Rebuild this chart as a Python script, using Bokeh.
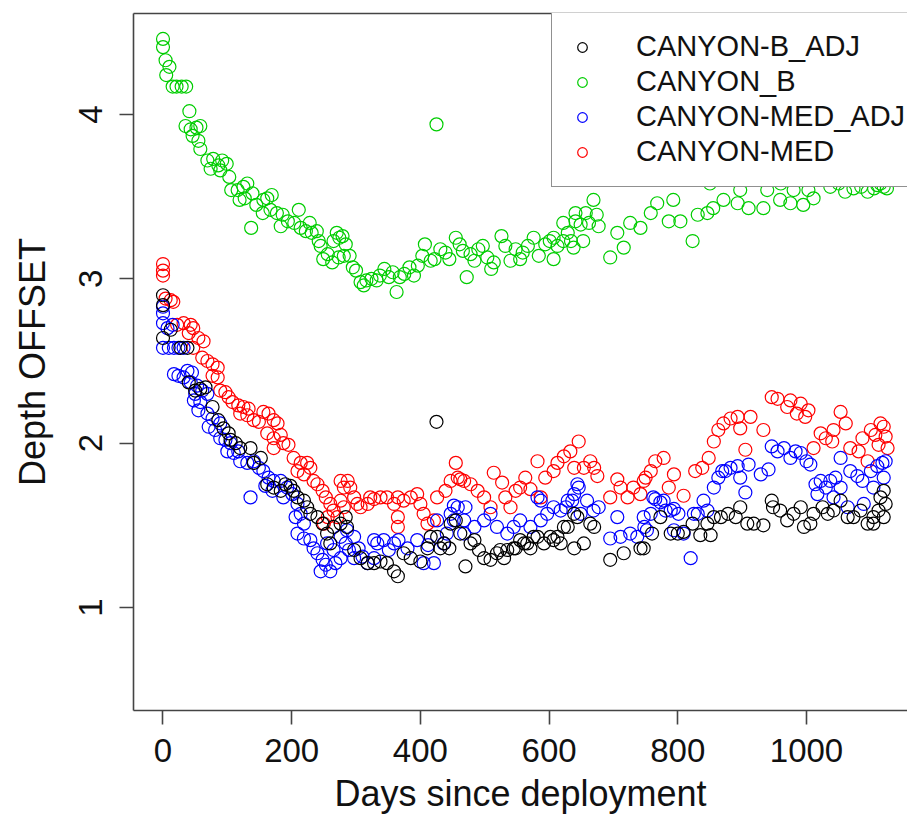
from bokeh.plotting import figure
from bokeh.models import Range1d, LinearAxis, FixedTicker, Legend, LegendItem
from bokeh.embed import file_html
from bokeh.resources import INLINE

# ---------------- data ----------------
green_days = [0, 0, 4, 10, 5, 15, 21, 29, 36, 41, 35, 43, 52, 58, 46, 55, 58, 69, 74, 78,
              86, 92, 99, 89, 103, 106, 116, 125, 131, 119, 127, 139, 145, 156, 162, 169, 137, 155, 167, 177,
              186, 183, 194, 204, 211, 214, 222, 228, 231, 239, 242, 245, 249, 256, 263, 265, 270, 274, 279, 284,
              273, 281, 290, 295, 300, 307, 312, 316, 324, 332, 337, 344, 351, 357, 363, 368, 375, 383, 390, 396,
              403, 407, 416, 422, 425, 431, 439, 445, 455, 461, 466, 472, 478, 484, 490, 497, 504, 510, 514, 526,
              532, 540, 548, 555, 559, 567, 576, 584, 594, 601, 607, 607, 613, 622, 622, 629, 634, 638, 641, 641,
              649, 653, 657, 662, 669, 674, 677, 695, 706, 716, 726, 742, 758, 768, 786, 793, 804, 823, 831, 846,
              855, 871, 893, 897, 910, 933, 939, 959, 975, 980, 995, 1003, 1011, 1037, 1073, 1095, 1120, 850, 905, 960,
              1050, 1110, 1105, 1115, 1125, 1060, 1085]
green_vals = [4.46, 4.41, 4.33, 4.29, 4.24, 4.17, 4.17, 4.17, 4.17, 4.02, 3.93, 3.91, 3.92, 3.93, 3.87, 3.84, 3.79, 3.72, 3.67, 3.73,
              3.69, 3.72, 3.70, 3.66, 3.62, 3.54, 3.54, 3.56, 3.58, 3.48, 3.49, 3.52, 3.45, 3.48, 3.49, 3.51, 3.31, 3.40, 3.42, 3.40,
              3.39, 3.32, 3.35, 3.34, 3.42, 3.31, 3.29, 3.34, 3.28, 3.29, 3.23, 3.20, 3.12, 3.15, 3.10, 3.23, 3.28, 3.25, 3.26, 3.21,
              3.13, 3.14, 3.14, 3.07, 3.05, 2.98, 2.96, 2.99, 3.00, 2.99, 3.02, 3.06, 3.01, 3.04, 2.92, 3.01, 3.03, 3.07, 3.02, 3.08,
              3.14, 3.21, 3.11, 3.12, 3.94, 3.18, 3.16, 3.12, 3.25, 3.21, 3.17, 3.01, 3.15, 3.11, 3.18, 3.20, 3.13, 3.06, 3.10, 3.26,
              3.20, 3.11, 3.18, 3.12, 3.16, 3.20, 3.25, 3.14, 3.21, 3.23, 3.12, 3.25, 3.20, 3.23, 3.34, 3.28, 3.23, 3.19, 3.35, 3.40,
              3.33, 3.23, 3.40, 3.34, 3.48, 3.39, 3.32, 3.13, 3.28, 3.19, 3.34, 3.31, 3.40, 3.46, 3.35, 3.48, 3.35, 3.23, 3.39, 3.40,
              3.43, 3.48, 3.46, 3.54, 3.43, 3.43, 3.54, 3.48, 3.46, 3.54, 3.45, 3.54, 3.49, 3.56, 3.55, 3.53, 3.56, 3.58, 3.60, 3.58,
              3.58, 3.57, 3.55, 3.58, 3.55, 3.53, 3.56]

red_days = [0, 0, 0, 4, 12, 16, 22, 32, 43, 47, 40, 55, 63, 47, 61, 69, 77, 85, 77, 85,
            89, 97, 102, 108, 117, 125, 133, 120, 131, 141, 149, 156, 164, 172, 178, 162, 172, 183, 187, 172,
            195, 203, 214, 224, 229, 209, 219, 234, 240, 248, 253, 260, 265, 271, 276, 281, 256, 250, 276, 287,
            281, 291, 297, 302, 307, 318, 322, 328, 338, 348, 359, 365, 365, 374, 385, 395, 400, 405, 365, 411,
            421, 426, 439, 447, 455, 458, 462, 468, 478, 489, 499, 509, 514, 527, 532, 540, 548, 555, 563, 571,
            582, 587, 594, 607, 613, 623, 633, 646, 639, 654, 664, 670, 675, 695, 706, 711, 722, 731, 742, 750,
            758, 747, 765, 778, 786, 794, 809, 827, 838, 848, 856, 863, 871, 882, 893, 897, 913, 905, 933, 946,
            955, 970, 975, 985, 991, 1003, 998, 1011, 1022, 1030, 1040, 1042, 1053, 1061, 1068, 1081, 1087, 1095, 1100, 1107,
            1115, 1120, 1123, 1126, 1112]
red_vals = [3.09, 3.05, 3.02, 2.88, 2.87, 2.86, 2.72, 2.73, 2.72, 2.70, 2.67, 2.64, 2.62, 2.58, 2.52, 2.50, 2.48, 2.46, 2.41, 2.40,
            2.32, 2.31, 2.28, 2.25, 2.23, 2.22, 2.21, 2.18, 2.17, 2.14, 2.13, 2.19, 2.18, 2.14, 2.12, 2.06, 2.03, 2.05, 2.00, 1.97,
            1.99, 1.91, 1.88, 1.88, 1.85, 1.83, 1.81, 1.77, 1.75, 1.71, 1.67, 1.63, 1.59, 1.55, 1.65, 1.61, 1.55, 1.51, 1.77, 1.77,
            1.73, 1.73, 1.67, 1.63, 1.61, 1.63, 1.67, 1.66, 1.67, 1.67, 1.63, 1.55, 1.67, 1.65, 1.67, 1.69, 1.63, 1.57, 1.49, 1.51,
            1.53, 1.67, 1.71, 1.77, 1.88, 1.79, 1.78, 1.77, 1.75, 1.71, 1.67, 1.61, 1.82, 1.76, 1.67, 1.61, 1.71, 1.73, 1.79, 1.72,
            1.89, 1.67, 1.79, 1.83, 1.88, 1.92, 1.95, 2.01, 1.85, 1.85, 1.89, 1.85, 1.80, 1.67, 1.78, 1.73, 1.67, 1.73, 1.69, 1.79,
            1.83, 1.77, 1.89, 1.91, 1.73, 1.81, 1.68, 1.83, 1.85, 1.91, 2.01, 2.08, 2.12, 2.15, 2.16, 2.09, 2.16, 1.96, 2.08, 2.28,
            2.27, 2.22, 2.26, 2.18, 2.24, 2.20, 2.16, 1.97, 2.06, 2.03, 2.01, 2.08, 2.19, 2.12, 1.97, 1.95, 2.03, 1.89, 2.08, 2.05,
            2.12, 2.10, 2.04, 1.97, 1.99]

blue_days = [0, 0, 0, 7, 15, 0, 9, 17, 24, 32, 17, 24, 32, 38, 45, 43, 53, 61, 50, 48,
             58, 69, 55, 69, 77, 71, 81, 89, 89, 97, 105, 100, 110, 117, 120, 131, 141, 149, 156, 136,
             164, 172, 159, 170, 183, 193, 187, 201, 209, 206, 214, 219, 209, 219, 229, 234, 240, 248, 253, 260,
             245, 255, 265, 276, 268, 276, 284, 289, 297, 286, 297, 304, 310, 318, 328, 333, 343, 351, 359, 366,
             328, 380, 395, 405, 421, 412, 436, 441, 426, 447, 458, 452, 468, 468, 484, 499, 509, 519, 535, 545,
             555, 571, 582, 587, 597, 607, 618, 629, 639, 644, 452, 470, 646, 587, 626, 636, 649, 659, 669, 677,
             695, 706, 711, 726, 737, 748, 752, 747, 758, 762, 765, 773, 778, 781, 789, 794, 801, 794, 809, 820,
             825, 831, 840, 846, 856, 863, 869, 874, 882, 893, 897, 905, 910, 929, 941, 946, 955, 965, 975, 983,
             991, 1000, 1006, 1014, 1017, 1022, 1030, 1037, 1042, 1045, 1053, 1053, 1064, 1068, 1079, 1087, 1089, 1100, 1104, 1110,
             1118, 1120, 1123]
blue_vals = [2.83, 2.79, 2.73, 2.70, 2.72, 2.58, 2.58, 2.58, 2.58, 2.58, 2.42, 2.41, 2.40, 2.44, 2.43, 2.37, 2.35, 2.32, 2.30, 2.26,
             2.25, 2.30, 2.20, 2.18, 2.15, 2.10, 2.08, 2.12, 2.03, 2.02, 2.00, 1.95, 1.94, 1.95, 1.89, 1.88, 1.89, 1.85, 1.83, 1.67,
             1.79, 1.77, 1.74, 1.71, 1.77, 1.73, 1.67, 1.69, 1.63, 1.55, 1.57, 1.51, 1.45, 1.42, 1.41, 1.36, 1.33, 1.29, 1.26, 1.22,
             1.22, 1.39, 1.35, 1.30, 1.27, 1.43, 1.39, 1.35, 1.30, 1.47, 1.43, 1.36, 1.31, 1.27, 1.30, 1.39, 1.41, 1.35, 1.39, 1.41,
             1.41, 1.36, 1.41, 1.27, 1.27, 1.38, 1.39, 1.45, 1.53, 1.57, 1.61, 1.53, 1.53, 1.45, 1.49, 1.53, 1.57, 1.49, 1.45, 1.49,
             1.53, 1.49, 1.67, 1.53, 1.57, 1.61, 1.59, 1.65, 1.69, 1.75, 1.62, 1.61, 1.73, 1.65, 1.61, 1.65, 1.57, 1.65, 1.59, 1.61,
             1.42, 1.55, 1.43, 1.45, 1.43, 1.49, 1.47, 1.55, 1.57, 1.67, 1.66, 1.64, 1.65, 1.59, 1.59, 1.60, 1.57, 1.47, 1.45, 1.30,
             1.57, 1.57, 1.65, 1.59, 1.73, 1.79, 1.83, 1.83, 1.85, 1.86, 1.79, 1.70, 1.87, 1.81, 1.84, 1.98, 1.95, 1.97, 1.91, 1.95,
             1.94, 1.89, 1.87, 1.75, 1.69, 1.77, 1.73, 1.77, 1.67, 1.79, 1.91, 1.73, 1.61, 1.83, 1.80, 1.77, 1.63, 1.83, 1.73, 1.86,
             1.88, 1.79, 1.89]

black_days = [0, 0, 0, 12, 27, 38, 40, 50, 58, 66, 77, 86, 94, 102, 105, 113, 120, 136, 141, 152,
              162, 172, 183, 190, 198, 203, 209, 219, 224, 229, 240, 248, 255, 260, 265, 276, 284, 286, 297, 307,
              318, 328, 338, 348, 359, 365, 374, 385, 400, 411, 416, 425, 426, 431, 437, 445, 447, 455, 462, 470,
              478, 484, 491, 499, 509, 519, 524, 530, 535, 545, 548, 555, 561, 566, 571, 576, 582, 592, 602, 607,
              613, 618, 623, 629, 639, 639, 644, 654, 664, 670, 695, 716, 742, 747, 760, 773, 789, 800, 809, 823,
              835, 846, 851, 856, 867, 878, 890, 897, 908, 918, 933, 946, 948, 959, 970, 980, 991, 996, 1006, 1011,
              1025, 1033, 1042, 1053, 1064, 1073, 1084, 1095, 1104, 1104, 1112, 1115, 1120, 1123, 1120]
black_vals = [2.90, 2.84, 2.64, 2.69, 2.58, 2.58, 2.37, 2.32, 2.33, 2.34, 2.22, 2.14, 2.09, 2.06, 2.02, 2.00, 1.97, 1.97, 1.88, 1.91,
              1.75, 1.73, 1.71, 1.75, 1.74, 1.71, 1.67, 1.65, 1.61, 1.57, 1.55, 1.51, 1.45, 1.39, 1.49, 1.51, 1.55, 1.49, 1.35, 1.30,
              1.27, 1.27, 1.28, 1.27, 1.22, 1.19, 1.33, 1.30, 1.28, 1.36, 1.43, 2.13, 1.43, 1.36, 1.39, 1.36, 1.51, 1.53, 1.45, 1.25,
              1.39, 1.41, 1.35, 1.30, 1.29, 1.33, 1.35, 1.30, 1.35, 1.36, 1.36, 1.41, 1.39, 1.39, 1.36, 1.43, 1.43, 1.39, 1.43, 1.41,
              1.43, 1.39, 1.49, 1.49, 1.36, 1.57, 1.55, 1.39, 1.51, 1.49, 1.29, 1.33, 1.36, 1.36, 1.45, 1.55, 1.45, 1.45, 1.46, 1.51,
              1.44, 1.51, 1.44, 1.55, 1.55, 1.57, 1.55, 1.61, 1.51, 1.51, 1.50, 1.65, 1.61, 1.59, 1.53, 1.57, 1.61, 1.49, 1.51, 1.57,
              1.61, 1.57, 1.59, 1.65, 1.55, 1.55, 1.59, 1.51, 1.55, 1.51, 1.59, 1.67, 1.71, 1.63, 1.55]

series_names = ["CANYON-B_ADJ", "CANYON_B", "CANYON-MED_ADJ", "CANYON-MED"]
series_colors = ["#000000", "#00CD00", "#0000FF", "#FF0000"]
x_ticks = [0, 200, 400, 600, 800, 1000]
y_ticks = [1, 2, 3, 4]

# ---------------- figure ----------------
FONT = "Liberation Sans"
LINE = "#444444"

p = figure(width=907, height=816, output_backend="svg", toolbar_location=None,
           x_range=Range1d(-45.84, 1156.96), y_range=Range1d(0.3732, 4.6146),
           min_border_left=133, min_border_right=0, min_border_top=13, min_border_bottom=106,
           x_axis_label="Days since deployment", y_axis_label="Depth OFFSET")
p.background_fill_color = "white"
p.border_fill_color = "white"
p.outline_line_color = None
p.grid.visible = False

for ax in (p.xaxis[0], p.yaxis[0]):
    ax.axis_line_color = LINE
    ax.axis_line_width = 1.6
    ax.major_tick_line_color = LINE
    ax.major_tick_line_width = 1.6
    ax.major_tick_in = 0
    ax.major_tick_out = 14
    ax.minor_tick_line_color = None
    ax.major_label_text_font = FONT
    ax.major_label_text_font_size = "33px"
    ax.major_label_text_color = "#111111"
    ax.axis_label_text_font = FONT
    ax.axis_label_text_font_size = "36px"
    ax.axis_label_text_font_style = "normal"
    ax.axis_label_text_color = "#111111"

p.xaxis[0].ticker = FixedTicker(ticks=x_ticks)
p.yaxis[0].ticker = FixedTicker(ticks=y_ticks)
p.xaxis[0].major_label_standoff = 14
p.xaxis[0].axis_label_standoff = 8
p.yaxis[0].major_label_orientation = "parallel"
p.yaxis[0].major_label_standoff = 17
p.yaxis[0].axis_label_standoff = 24

top_axis = LinearAxis(ticker=FixedTicker(ticks=[]), major_tick_out=0, major_tick_in=0,
                      minor_tick_out=0, minor_tick_in=0, major_label_standoff=0,
                      axis_line_color=LINE, axis_line_width=1.6)
p.add_layout(top_axis, "above")

data = {
    "CANYON-B_ADJ": (black_days, black_vals),
    "CANYON_B": (green_days, green_vals),
    "CANYON-MED_ADJ": (blue_days, blue_vals),
    "CANYON-MED": (red_days, red_vals),
}
renderers = {}
for name in ["CANYON_B", "CANYON-MED", "CANYON-MED_ADJ", "CANYON-B_ADJ"]:
    col = series_colors[series_names.index(name)]
    xs, ys = data[name]
    renderers[name] = p.scatter(xs, ys, marker="circle", size=13, fill_color=None,
                                line_color=col, line_width=1.2)

legend = Legend(items=[LegendItem(label=n, renderers=[renderers[n]]) for n in series_names],
                location=(418, 523), margin=0, padding=18, spacing=2,
                glyph_width=24, glyph_height=30, label_height=30, label_width=300,
                label_standoff=42, label_text_font=FONT, label_text_font_size="29px",
                label_text_color="#111111",
                border_line_color="#222222", border_line_width=1.4,
                background_fill_color="white", background_fill_alpha=1.0)
p.add_layout(legend, "center")

open("out.html", "w").write(file_html(p, INLINE))
